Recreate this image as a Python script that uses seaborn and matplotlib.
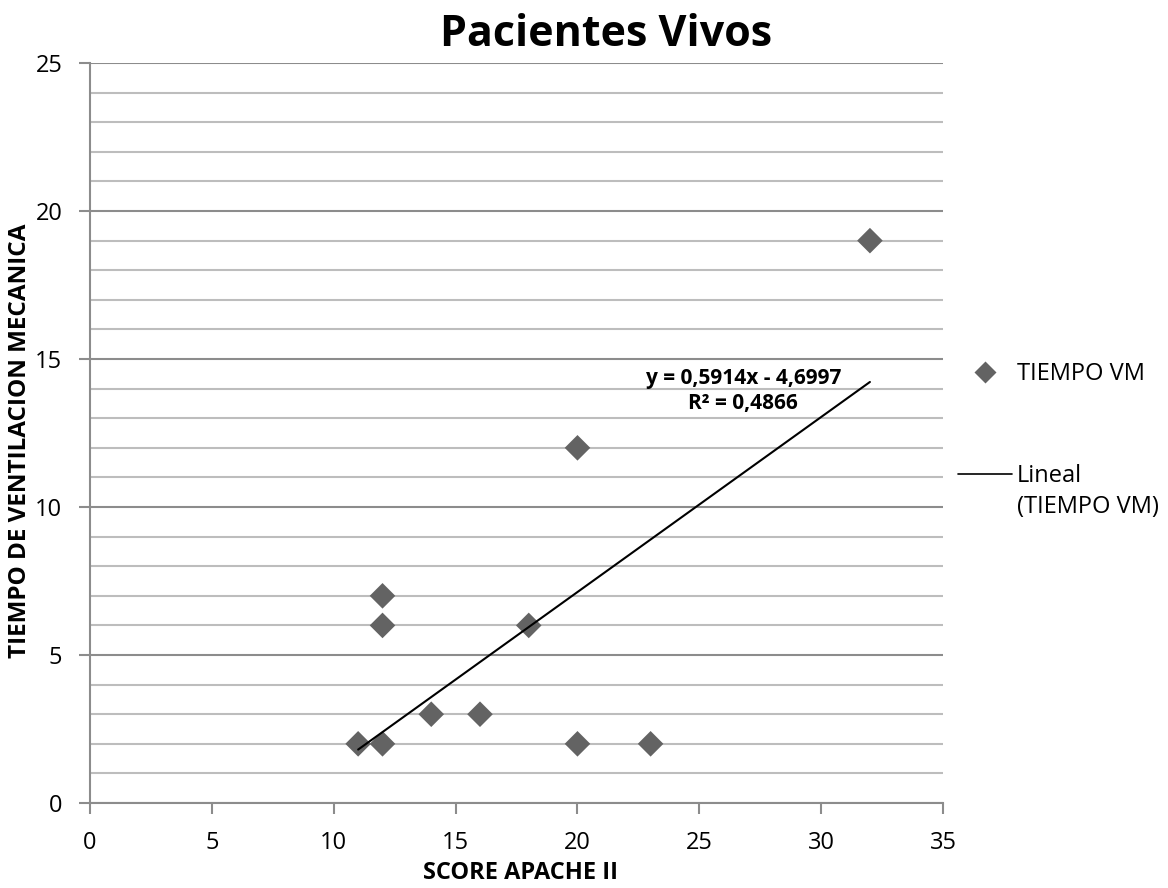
import numpy as np
import pandas as pd
import seaborn as sns
import matplotlib
matplotlib.use("Agg")
import matplotlib.pyplot as plt
from matplotlib.lines import Line2D
from matplotlib.ticker import MultipleLocator

score = [11, 12, 12, 12, 14, 16, 18, 20, 20, 23, 32]
tiempo = [2, 2, 6, 7, 3, 3, 6, 12, 2, 2, 19]
slope = 0.5914
intercept = -4.6997
eq_text = "y = 0,5914x - 4,6997\nR² = 0,4866"

sns.set_style("white")
plt.rcParams['font.family'] = ['Open Sans', 'DejaVu Sans']
plt.rcParams['text.color'] = 'black'
plt.rcParams['axes.labelcolor'] = 'black'

df = pd.DataFrame({"SCORE APACHE II": score, "TIEMPO VM": tiempo})

fig = plt.figure(figsize=(11.68, 8.88), dpi=100)
ax = fig.add_axes([0.0771, 0.0957, 0.7303, 0.8333])

sns.scatterplot(data=df, x="SCORE APACHE II", y="TIEMPO VM", ax=ax,
                marker="D", s=170, color="#636363", edgecolor="none", zorder=3, legend=False)

xs = np.array([min(score), max(score)])
ax.plot(xs, slope * xs + intercept, color="black", lw=1.5, zorder=4)

ax.set_xlim(0, 35)
ax.set_ylim(0, 25)
ax.xaxis.set_major_locator(MultipleLocator(5))
ax.yaxis.set_major_locator(MultipleLocator(5))
ax.yaxis.set_minor_locator(MultipleLocator(1))
ax.grid(which="major", axis="y", color="#8c8c8c", lw=1.5, zorder=0)
ax.grid(which="minor", axis="y", color="#bdbdbd", lw=1.5, zorder=0)
ax.set_axisbelow(True)

for s in ["top", "right"]:
    ax.spines[s].set_visible(False)
for s in ["left", "bottom"]:
    ax.spines[s].set_color("#8c8c8c")
    ax.spines[s].set_linewidth(1.5)

ax.tick_params(axis="both", which="major", direction="out", length=8, width=1.5,
               color="#8c8c8c", labelsize=17, labelcolor="black",
               bottom=True, left=True)
ax.tick_params(axis="x", pad=12)
ax.tick_params(axis="y", pad=12)
ax.tick_params(axis="y", which="minor", length=0, left=False)

ax.set_xlabel("SCORE APACHE II", fontsize=17, fontweight="bold")
ax.set_ylabel("TIEMPO DE VENTILACION MECANICA", fontsize=17.5, fontweight="bold")
ax.xaxis.set_label_coords(0.505, -0.079)
ax.yaxis.set_label_coords(-0.068, 0.489)
fig.text(0.519, 0.961, "Pacientes Vivos", fontsize=31, fontweight="bold",
         ha="center", va="center")

ax.text(26.8, 13.92, eq_text, fontsize=15, fontweight="bold", ha="center", va="center",
        linespacing=1.2)

h_pts = Line2D([0], [0], marker="D", color="none", markerfacecolor="#636363",
               markeredgecolor="none", markersize=11)
h_line = Line2D([0], [0], color="black", lw=1.2)
common = dict(frameon=False, fontsize=17, handlelength=2.3, handletextpad=0.2,
              borderpad=0, borderaxespad=0, loc="center left")
fig.legend([h_pts], ["TIEMPO VM"], bbox_to_anchor=(0.8202, 0.5788), **common)
fig.legend([h_line], ["Lineal"], bbox_to_anchor=(0.8202, 0.464), **common)
fig.text(0.8707, 0.429, "(TIEMPO VM)", fontsize=17, ha="left", va="center")

fig.savefig("out.png", dpi=100)
